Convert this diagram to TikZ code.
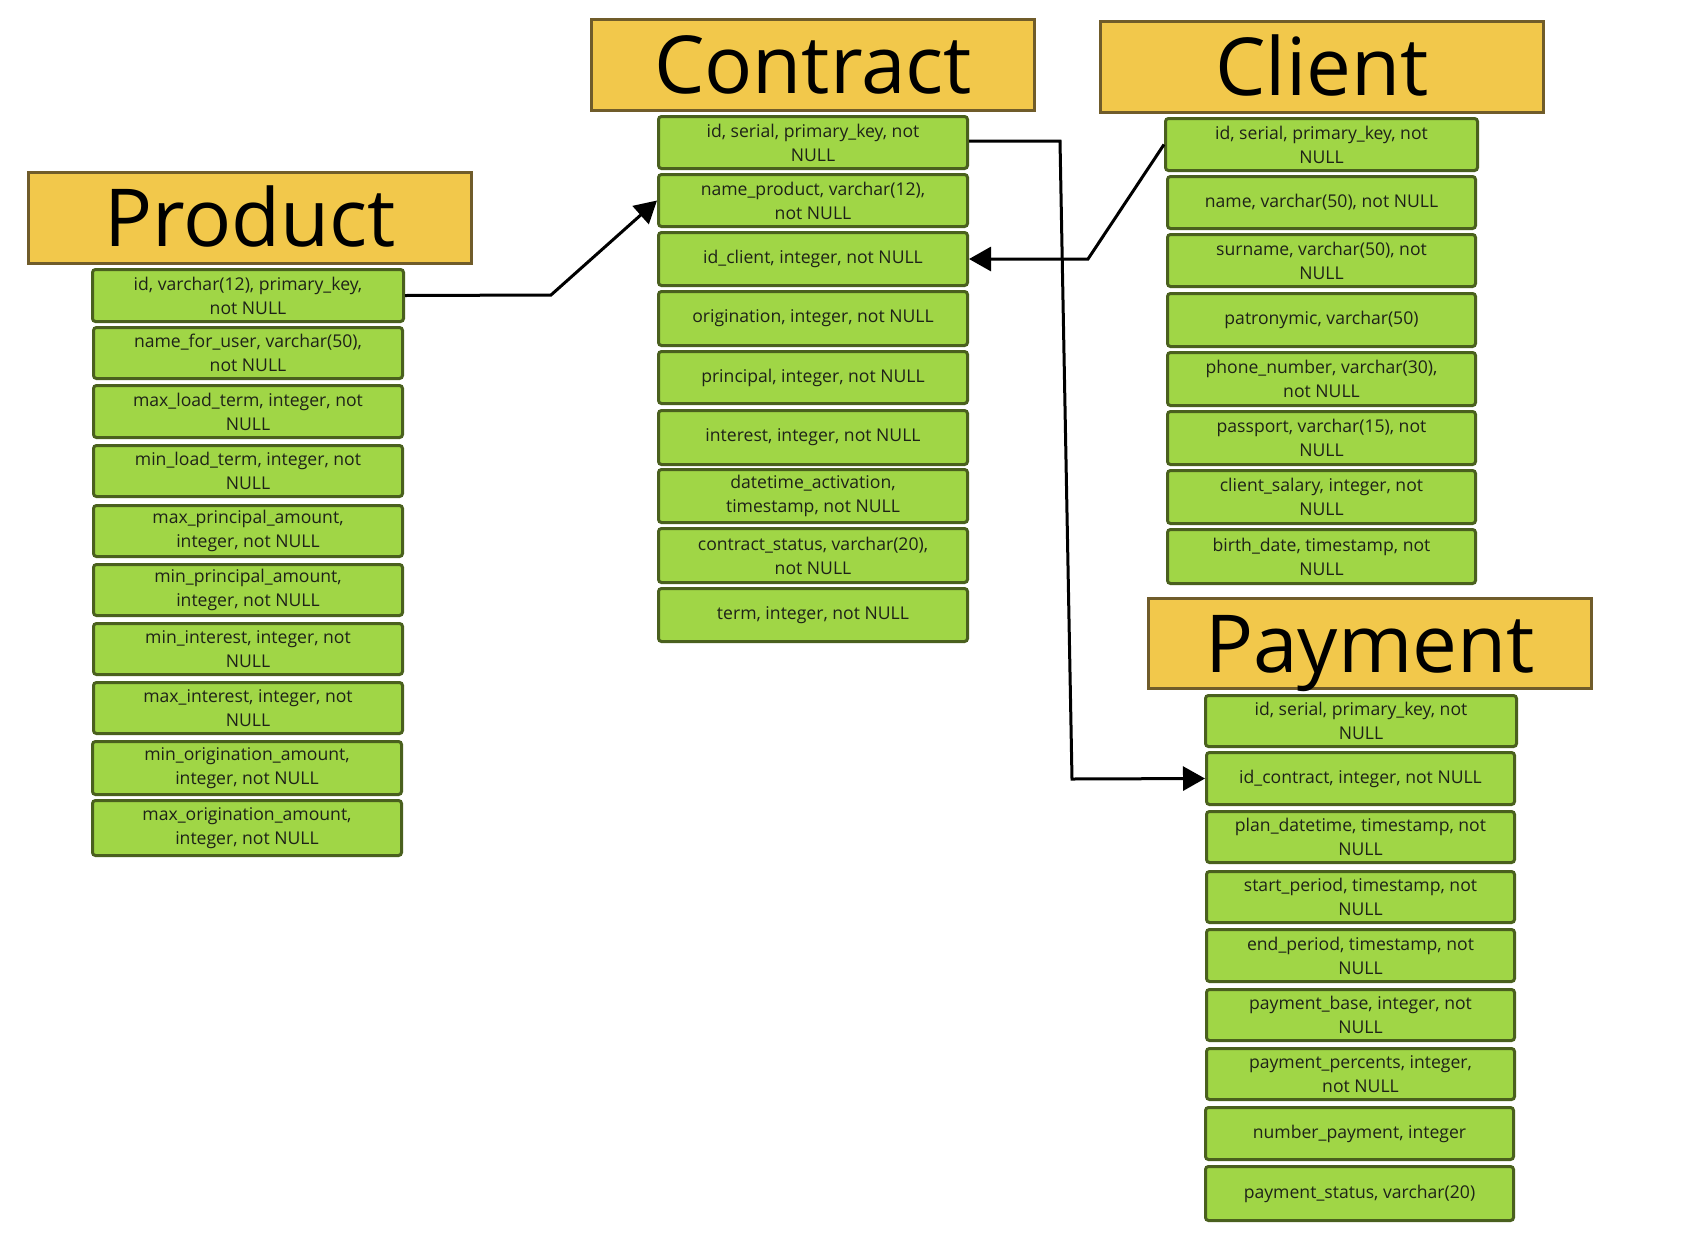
\documentclass[tikz,border=0pt]{standalone}
\usepackage{fontspec}
\setmainfont{Open Sans}
\usetikzlibrary{arrows.meta}
\definecolor{hdrfill}{RGB}{242,200,75}
\definecolor{hdrdraw}{RGB}{112,92,42}
\definecolor{fldfill}{RGB}{160,214,70}
\definecolor{flddraw}{RGB}{74,96,30}
\definecolor{fldtext}{RGB}{30,34,24}
\tikzset{
  fld/.style={rectangle, rounded corners=3pt, draw=flddraw, fill=fldfill, line width=3pt,
    align=center, inner sep=0pt, text=fldtext, font=\fontsize{17.6}{24}\selectfont},
  hdr/.style={rectangle, draw=hdrdraw, fill=hdrfill, line width=3pt, inner sep=0pt,
    text height=57pt, text depth=0pt, font=\fontsize{80}{90}\selectfont},
  conn/.style={line width=3pt, -{Triangle[length=22pt,width=24pt]}}
}
\newcommand\fldnode[6]{\node[fld, minimum width={#4-#2-3}, minimum height={#5-#3-3}] (#1) at ({(#2+#4)/2},{(#3+#5)/2}) {#6};}
\newcommand\hdrnode[6]{\node[hdr, minimum width={#4-#2-3}, minimum height={#5-#3-3}] (#1) at ({(#2+#4)/2},{(#3+#5)/2}) {#6};}
\begin{document}
\begin{tikzpicture}[x=1pt,y=-1pt]
\fill[white] (0,0) rectangle (1698,1240);
\useasboundingbox (0,0) rectangle (1698,1240);

% Product
\hdrnode{ph}{27}{171}{473}{265}{Product}
\fldnode{p1}{91}{268}{405}{323}{id, varchar(12), primary\_key,\\not NULL}
\fldnode{p2}{92}{326}{404}{380}{name\_for\_user, varchar(50),\\not NULL}
\fldnode{p3}{92}{384}{404}{439}{max\_load\_term, integer, not\\NULL}
\fldnode{p4}{92}{444}{404}{498}{min\_load\_term, integer, not\\NULL}
\fldnode{p5}{92}{504}{404}{558}{max\_principal\_amount,\\integer, not NULL}
\fldnode{p6}{92}{563}{404}{617}{min\_principal\_amount,\\integer, not NULL}
\fldnode{p7}{92}{622}{404}{676}{min\_interest, integer, not\\NULL}
\fldnode{p8}{92}{681}{404}{735}{max\_interest, integer, not\\NULL}
\fldnode{p9}{91}{740}{403}{796}{min\_origination\_amount,\\integer, not NULL}
\fldnode{p10}{91}{799}{403}{857}{max\_origination\_amount,\\integer, not NULL}

% Contract
\hdrnode{ch}{590}{18}{1036}{112}{Contract}
\fldnode{c1}{657}{115}{969}{170}{id, serial, primary\_key, not\\NULL}
\fldnode{c2}{657}{173}{969}{228}{name\_product, varchar(12),\\not NULL}
\fldnode{c3}{657}{231}{969}{287}{id\_client, integer, not NULL}
\fldnode{c4}{657}{290}{969}{347}{origination, integer, not NULL}
\fldnode{c5}{657}{350}{969}{405}{principal, integer, not NULL}
\fldnode{c6}{657}{409}{969}{466}{interest, integer, not NULL}
\fldnode{c7}{657}{468}{969}{524}{datetime\_activation,\\timestamp, not NULL}
\fldnode{c8}{657}{527}{969}{584}{contract\_status, varchar(20),\\not NULL}
\fldnode{c9}{657}{587}{969}{643}{term, integer, not NULL}

% Client
\hdrnode{kh}{1099}{20}{1545}{114}{Client}
\fldnode{k1}{1164}{117}{1479}{172}{id, serial, primary\_key, not\\NULL}
\fldnode{k2}{1166}{175}{1477}{230}{name, varchar(50), not NULL}
\fldnode{k3}{1166}{233}{1477}{288}{surname, varchar(50), not\\NULL}
\fldnode{k4}{1166}{292}{1477}{348}{patronymic, varchar(50)}
\fldnode{k5}{1166}{351}{1477}{407}{phone\_number, varchar(30),\\not NULL}
\fldnode{k6}{1166}{410}{1477}{466}{passport, varchar(15), not\\NULL}
\fldnode{k7}{1166}{469}{1477}{525}{client\_salary, integer, not\\NULL}
\fldnode{k8}{1166}{528}{1477}{585}{birth\_date, timestamp, not\\NULL}

% Payment
\hdrnode{mh}{1147}{597}{1593}{690}{Payment}
\fldnode{m1}{1204}{694}{1518}{748}{id, serial, primary\_key, not\\NULL}
\fldnode{m2}{1205}{751}{1516}{806}{id\_contract, integer, not NULL}
\fldnode{m3}{1205}{810}{1516}{864}{plan\_datetime, timestamp, not\\NULL}
\fldnode{m4}{1205}{870}{1516}{924}{start\_period, timestamp, not\\NULL}
\fldnode{m5}{1205}{928}{1516}{983}{end\_period, timestamp, not\\NULL}
\fldnode{m6}{1205}{988}{1516}{1042}{payment\_base, integer, not\\NULL}
\fldnode{m7}{1205}{1047}{1516}{1101}{payment\_percents, integer,\\not NULL}
\fldnode{m8}{1204}{1106}{1515}{1161}{number\_payment, integer}
\fldnode{m9}{1204}{1165}{1515}{1222}{payment\_status, varchar(20)}

% connectors
\coordinate (b1) at (551,295);
\coordinate (b2) at (1060,141);
\coordinate (b3) at (1072,779);
\coordinate (b4) at (1088,259);
\draw[conn] (p1.east) -- (b1) -- (c2.west);
\draw[conn] (c1.east |- 0,141) -- (b2) -- (b3) -- (m2.west);
\draw[conn] (k1.west) -- (b4) -- (c3.east);
\end{tikzpicture}
\end{document}
